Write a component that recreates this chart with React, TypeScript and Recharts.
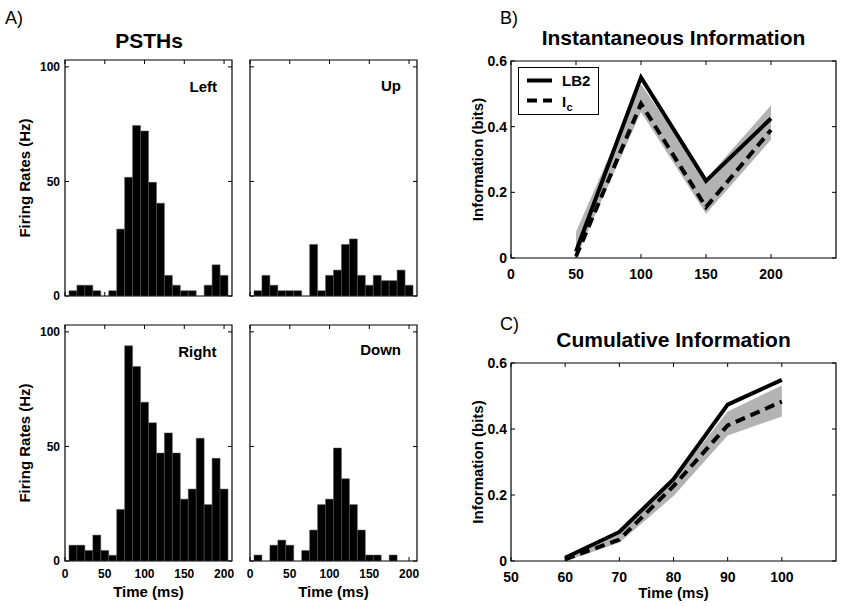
import React from 'react';
import { BarChart, Bar, XAxis, YAxis, ReferenceArea, ComposedChart, Line, Area, Legend } from 'recharts';

const FONT = '"Liberation Sans", Arial, Helvetica, sans-serif';

// PSTH data (bins centred every 10 ms)
const psthTimes = [10, 20, 30, 40, 50, 60, 70, 80, 90, 100, 110, 120, 130, 140, 150, 160, 170, 180, 190, 200];
const psthLeft = [2.3, 4.7, 4.7, 2.3, 0, 2.3, 29.2, 51.8, 74.4, 72, 49.6, 40.5, 9, 4.7, 2.3, 2.3, 0, 4.7, 13.6, 9];
const psthUp = [2.3, 9, 4.7, 2.3, 2.3, 2.3, 0, 22.5, 2.3, 9, 11.3, 22.5, 24.9, 9, 4.7, 9, 6.7, 6.7, 11.3, 4.7];
const psthRight = [6.9, 6.9, 4.6, 11.3, 4.6, 2.5, 22.5, 93.9, 84.9, 69.3, 60.3, 47.1, 55.9, 47.1, 27, 31.4, 53.6, 24.6, 44.8, 31.4];
const psthDown = [2.6, 0, 6.9, 9.1, 6.9, 0, 4.6, 13.5, 24.6, 27, 49.3, 35.9, 24.6, 13.5, 2.6, 2.6, 0, 2.6, 0, 0];
const psthXTicks = [0, 50, 100, 150, 200];
const psthYTicks = [0, 50, 100];

// Instantaneous information
const infoTimes = [50, 100, 150, 200];
const infoLB2 = [0.02, 0.55, 0.235, 0.425];
const infoIc = [0.005, 0.47, 0.155, 0.39];
const infoLo = [0.0, 0.445, 0.135, 0.36];
const infoHi = [0.08, 0.53, 0.24, 0.465];
const infoXTicks = [0, 50, 100, 150, 200];

// Cumulative information
const cumTimes = [60, 70, 80, 90, 100];
const cumLB2 = [0.01, 0.088, 0.248, 0.474, 0.549];
const cumIc = [0.005, 0.065, 0.227, 0.411, 0.483];
const cumLo = [0.0, 0.055, 0.197, 0.38, 0.438];
const cumHi = [0.015, 0.09, 0.245, 0.453, 0.532];
const cumXTicks = [50, 60, 70, 80, 90, 100];
const infoYTicks = [0, 0.2, 0.4, 0.6];

const makeXTick = (plotH: number, show: boolean, fs: number, dy: number) => (p: any) => {
  const { x, y, payload } = p;
  return (
    <g>
      <line x1={x} y1={y} x2={x} y2={y - 4} stroke="#000" strokeWidth={1} />
      <line x1={x} y1={y - plotH} x2={x} y2={y - plotH + 4} stroke="#000" strokeWidth={1} />
      {show && (
        <text x={x} y={y + dy} textAnchor="middle" fontSize={fs} fontWeight="bold" fontFamily={FONT} fill="#000">
          {payload.value}
        </text>
      )}
    </g>
  );
};

const makeYTick = (plotW: number, show: boolean, fs: number, dx: number) => (p: any) => {
  const { x, y, payload } = p;
  return (
    <g>
      <line x1={x} y1={y} x2={x + 4} y2={y} stroke="#000" strokeWidth={1} />
      <line x1={x + plotW} y1={y} x2={x + plotW - 4} y2={y} stroke="#000" strokeWidth={1} />
      {show && (
        <text x={x - dx} y={y + fs * 0.36} textAnchor="end" fontSize={fs} fontWeight="bold" fontFamily={FONT} fill="#000">
          {payload.value}
        </text>
      )}
    </g>
  );
};

function Psth({ values, px, py, showX, showY }: { values: number[]; px: number; py: number; showX: boolean; showY: boolean }) {
  const L = 60, T = 10, R = 10, B = 40;
  const W = 167, H = 236;
  const data = psthTimes.map((t, i) => ({ t, v: values[i] }));
  return (
    <div style={{ position: 'absolute', left: px - L, top: py - T }}>
      <BarChart width={W + L + R} height={H + T + B} data={data} margin={{ top: T, right: R, bottom: 0, left: 0 }} barCategoryGap={0} barGap={0}>
        <XAxis dataKey="t" type="number" domain={[0, 210]} ticks={psthXTicks} interval={0} height={B}
          axisLine={false} tickLine={false} tickSize={0} tickMargin={0} allowDataOverflow
          tick={makeXTick(H, showX, 12, 17)} />
        <YAxis type="number" domain={[0, 103]} ticks={psthYTicks} interval={0} width={L}
          axisLine={false} tickLine={false} tickSize={0} tickMargin={0} allowDataOverflow
          tick={makeYTick(W, showY, 12, 5)} />
        <Bar dataKey="v" fill="#000" stroke="#555" strokeWidth={0.5} barSize={7.95} isAnimationActive={false} />
        <ReferenceArea x1={0} x2={210} y1={0} y2={103} fill="none" fillOpacity={0} stroke="#000" strokeWidth={1.2} />
      </BarChart>
    </div>
  );
}

const renderLegend = () => (
  <svg width={82} height={49} style={{ display: 'block' }}>
    <rect x={0.5} y={0.5} width={80} height={47} fill="#fff" stroke="#000" strokeWidth={1} />
    <line x1={9} y1={13.5} x2={34} y2={13.5} stroke="#000" strokeWidth={4} />
    <text x={44} y={19} fontSize={15} fontWeight="bold" fontFamily={FONT} fill="#000">LB2</text>
    <line x1={9} y1={33.5} x2={34} y2={33.5} stroke="#000" strokeWidth={4} strokeDasharray="10 6" />
    <text x={44} y={40} fontSize={15} fontWeight="bold" fontFamily={FONT} fill="#000">I</text>
    <text x={48.5} y={44} fontSize={11} fontWeight="bold" fontFamily={FONT} fill="#000">c</text>
  </svg>
);

function InfoChart({ times, lb2, ic, lo, hi, xDomain, xTicks, px, py, H, legend }: any) {
  const L = 60, T = 10, R = 5, B = 40;
  const W = 325;
  const data = times.map((t: number, i: number) => ({ t, lb2: lb2[i], ic: ic[i], band: [lo[i], hi[i]] }));
  return (
    <div style={{ position: 'absolute', left: px - L, top: py - T }}>
      <ComposedChart width={W + L + R} height={H + T + B} data={data} margin={{ top: T, right: R, bottom: 0, left: 0 }}>
        <XAxis dataKey="t" type="number" domain={xDomain} ticks={xTicks} interval={0} height={B}
          axisLine={false} tickLine={false} tickSize={0} tickMargin={0} allowDataOverflow
          tick={makeXTick(H, true, 14, 20.5)} />
        <YAxis type="number" domain={[0, 0.6]} ticks={infoYTicks} interval={0} width={L}
          axisLine={false} tickLine={false} tickSize={0} tickMargin={0} allowDataOverflow
          tick={makeYTick(W, true, 14, 4)} />
        <Area type="linear" dataKey="band" fill="#b3b3b3" fillOpacity={1} stroke="none" isAnimationActive={false} legendType="none" />
        <Line type="linear" dataKey="ic" stroke="#000" strokeWidth={4} strokeDasharray="10 6" dot={false} isAnimationActive={false} />
        <Line type="linear" dataKey="lb2" stroke="#000" strokeWidth={4} dot={false} isAnimationActive={false} />
        <ReferenceArea x1={xDomain[0]} x2={xDomain[1]} y1={0} y2={0.6} fill="none" fillOpacity={0} stroke="#000" strokeWidth={1.2} />
        {legend && (
          <Legend layout="horizontal" verticalAlign="middle" align="center" content={renderLegend}
            wrapperStyle={{ left: 518 - (px - L), top: 66.5 - (py - T), width: 82, height: 49 }} />
        )}
      </ComposedChart>
    </div>
  );
}

const txt = (s: any) => ({ fontFamily: FONT, fill: '#000', ...s });

export default function App() {
  return (
    <div style={{ position: 'absolute', left: 0, top: 0, width: 841, height: 606, background: '#fff', overflow: 'hidden' }}>
      <Psth values={psthLeft} px={65} py={60} showX={false} showY={true} />
      <Psth values={psthUp} px={250} py={60} showX={false} showY={false} />
      <Psth values={psthRight} px={65} py={325} showX={true} showY={true} />
      <Psth values={psthDown} px={250} py={325} showX={true} showY={false} />
      <InfoChart times={infoTimes} lb2={infoLB2} ic={infoIc} lo={infoLo} hi={infoHi} xDomain={[0, 250]} xTicks={infoXTicks} px={511} py={61} H={197} legend={true} />
      <InfoChart times={cumTimes} lb2={cumLB2} ic={cumIc} lo={cumLo} hi={cumHi} xDomain={[50, 110]} xTicks={cumXTicks} px={511} py={363} H={198} legend={false} />
      <svg width={841} height={606} style={{ position: 'absolute', left: 0, top: 0, pointerEvents: 'none' }}>
        <text x={5} y={24} fontSize={18} {...txt({})}>A)</text>
        <text x={500} y={24} fontSize={18} {...txt({})}>B)</text>
        <text x={500} y={330} fontSize={18} {...txt({})}>C)</text>
        <text x={149} y={47.5} fontSize={21} fontWeight="bold" textAnchor="middle" {...txt({})}>PSTHs</text>
        <text x={673.5} y={44.5} fontSize={21} fontWeight="bold" textAnchor="middle" {...txt({})}>Instantaneous Information</text>
        <text x={673.5} y={347} fontSize={21} fontWeight="bold" textAnchor="middle" {...txt({})}>Cumulative Information</text>
        <text x={217} y={92} fontSize={15} fontWeight="bold" textAnchor="end" {...txt({})}>Left</text>
        <text x={401} y={91} fontSize={15} fontWeight="bold" textAnchor="end" {...txt({})}>Up</text>
        <text x={216.5} y={357} fontSize={15} fontWeight="bold" textAnchor="end" {...txt({})}>Right</text>
        <text x={401} y={355} fontSize={15} fontWeight="bold" textAnchor="end" {...txt({})}>Down</text>
        <text transform="translate(29.5,178) rotate(-90)" fontSize={15} fontWeight="bold" textAnchor="middle" {...txt({})}>Firing Rates (Hz)</text>
        <text transform="translate(29.5,443) rotate(-90)" fontSize={15} fontWeight="bold" textAnchor="middle" {...txt({})}>Firing Rates (Hz)</text>
        <text transform="translate(483,159.5) rotate(-90)" fontSize={15} fontWeight="bold" textAnchor="middle" {...txt({})}>Information (bits)</text>
        <text transform="translate(483,462) rotate(-90)" fontSize={15} fontWeight="bold" textAnchor="middle" {...txt({})}>Information (bits)</text>
        <text x={148.5} y={597} fontSize={15} fontWeight="bold" textAnchor="middle" {...txt({})}>Time (ms)</text>
        <text x={333.5} y={597} fontSize={15} fontWeight="bold" textAnchor="middle" {...txt({})}>Time (ms)</text>
        <text x={673.5} y={598} fontSize={15} fontWeight="bold" textAnchor="middle" {...txt({})}>Time (ms)</text>
      </svg>
    </div>
  );
}
